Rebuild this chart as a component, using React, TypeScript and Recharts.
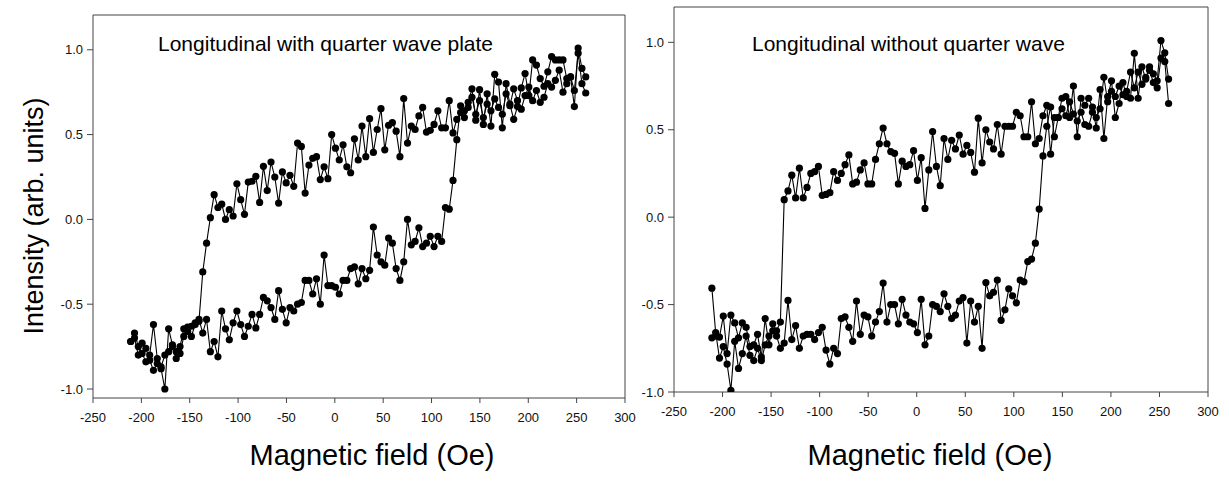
import React from 'react';
import { LineChart, Line, XAxis, YAxis, ReferenceLine } from 'recharts';

const FONT = '"Liberation Sans", Arial, Helvetica, sans-serif';

// field sweep grid (Oe)
const fieldStart = -211;
const fieldStep = 3.92;
const fieldSteps = Array.from({ length: 121 }, (_, i) => Math.round((fieldStart + fieldStep * i) * 100) / 100);

const xTicks = [-250, -200, -150, -100, -50, 0, 50, 100, 150, 200, 250, 300];
const yTicks = [-1, -0.5, 0, 0.5, 1];

// Left panel: with quarter wave plate
const leftAscending = [
  -0.72, -0.67, -0.75, -0.79, -0.84, -0.80, -0.62, -0.82, -0.88, -1.00, -0.645, -0.74, -0.78, -0.79, -0.69, -0.635, -0.69, -0.62, -0.59,
  -0.67, -0.59, -0.78, -0.72, -0.81, -0.54, -0.645, -0.71, -0.61, -0.54, -0.62, -0.69, -0.63, -0.56, -0.64, -0.56, -0.46, -0.48, -0.52, -0.59,
  -0.42, -0.53, -0.61, -0.52, -0.54, -0.50, -0.49, -0.36, -0.36, -0.44, -0.35, -0.50, -0.21, -0.39, -0.39, -0.40, -0.44, -0.36, -0.36, -0.29,
  -0.28, -0.38, -0.29, -0.35, -0.30, -0.045, -0.21, -0.25, -0.27, -0.11, -0.14, -0.29, -0.36, -0.25, 0.0, -0.15, -0.13, -0.05, -0.16, -0.14,
  -0.10, -0.16, -0.10, -0.13, 0.07, 0.06, 0.23, 0.47,
  0.67, 0.64, 0.69, 0.77, 0.585, 0.765, 0.56, 0.74, 0.55, 0.855, 0.81, 0.54, 0.80, 0.68, 0.59, 0.665, 0.775, 0.86, 0.73, 0.94,
  0.91, 0.83, 0.785, 0.87, 0.96, 0.94, 0.94, 0.94, 0.83, 0.84, 0.665, 1.01, 0.89, 0.84,
];
const leftDescending = [
  -0.72, -0.70, -0.80, -0.73, -0.76, -0.83, -0.89, -0.85, -0.87, -0.80, -0.78, -0.75, -0.82, -0.75, -0.645, -0.66, -0.63, -0.61, -0.60,
  -0.31, -0.14, 0.01, 0.146, 0.07, 0.09, 0.0, 0.057, 0.02, 0.21, 0.116, 0.03, 0.22, 0.225, 0.254, 0.10, 0.313, 0.17, 0.338, 0.25,
  0.096, 0.28, 0.215, 0.26, 0.195, 0.45, 0.43, 0.155, 0.32, 0.36, 0.37, 0.235, 0.31, 0.24, 0.50, 0.42, 0.35, 0.44, 0.31, 0.275,
  0.475, 0.35, 0.55, 0.37, 0.594, 0.395, 0.53, 0.653, 0.41, 0.555, 0.57, 0.52, 0.37, 0.712, 0.45, 0.55, 0.53, 0.61, 0.66, 0.515,
  0.525, 0.56, 0.64, 0.54, 0.54, 0.70, 0.51, 0.59,
  0.63, 0.60, 0.66, 0.72, 0.62, 0.70, 0.60, 0.68, 0.64, 0.71, 0.66, 0.62, 0.74, 0.67, 0.77, 0.70, 0.65, 0.73, 0.78, 0.70,
  0.76, 0.69, 0.72, 0.80, 0.78, 0.82, 0.88, 0.75, 0.80, 0.84, 0.76, 0.98, 0.80, 0.745,
];

// Right panel: without quarter wave
const rightAscending = [
  -0.406, -0.66, -0.806, -0.74, -0.84, -0.99, -0.71, -0.865, -0.78, -0.68, -0.79, -0.82, -0.75, -0.82, -0.73, -0.68, -0.65, -0.68, -0.75, -0.72,
  -0.476, -0.70, -0.62, -0.75, -0.68, -0.67, -0.67, -0.70, -0.66, -0.63,
  -0.76, -0.84, -0.75, -0.78, -0.58, -0.57, -0.63, -0.71, -0.48, -0.67,
  -0.56, -0.57, -0.68, -0.60, -0.54, -0.377, -0.60, -0.50, -0.50, -0.61,
  -0.47, -0.56, -0.60, -0.61, -0.66, -0.47, -0.73, -0.68, -0.50, -0.51,
  -0.54, -0.438, -0.51, -0.58, -0.56, -0.48, -0.46, -0.72, -0.48, -0.60,
  -0.51, -0.75, -0.374, -0.45, -0.43, -0.36, -0.59, -0.53, -0.41, -0.45,
  -0.49, -0.36, -0.37, -0.254, -0.24, -0.149, 0.046,
  0.35, 0.52, 0.63, 0.46, 0.57, 0.68, 0.69, 0.57, 0.75, 0.46, 0.68, 0.64, 0.68, 0.63, 0.51, 0.73, 0.45, 0.69, 0.78, 0.57,
  0.65, 0.77, 0.69, 0.68, 0.937, 0.68, 0.86, 0.79, 0.86, 0.82, 0.78, 1.01, 0.94, 0.79,
];
const rightDescending = [
  -0.69, -0.68, -0.686, -0.566, -0.78, -0.56, -0.605, -0.69, -0.605, -0.63, -0.74, -0.73, -0.67, -0.80, -0.58, -0.73, -0.61, -0.65, -0.60,
  0.10, 0.15, 0.24, 0.11, 0.28, 0.11, 0.17, 0.25, 0.26, 0.29, 0.125, 0.13, 0.14, 0.26, 0.21, 0.25, 0.30, 0.356, 0.19, 0.20,
  0.27, 0.31, 0.19, 0.19, 0.33, 0.42, 0.51, 0.42, 0.375, 0.365, 0.19, 0.32, 0.29, 0.30, 0.38, 0.21, 0.34, 0.05, 0.27, 0.49,
  0.29, 0.18, 0.45, 0.33, 0.44, 0.39, 0.47, 0.36, 0.41, 0.37, 0.257, 0.566, 0.31, 0.50, 0.43, 0.39, 0.53, 0.36, 0.52, 0.52,
  0.52, 0.60, 0.58, 0.46, 0.46, 0.66, 0.42, 0.45,
  0.58, 0.64, 0.36, 0.57, 0.57, 0.62, 0.58, 0.66, 0.59, 0.55, 0.60, 0.53, 0.52, 0.60, 0.57, 0.62, 0.80, 0.66, 0.72, 0.69,
  0.75, 0.70, 0.72, 0.83, 0.74, 0.83, 0.76, 0.80, 0.84, 0.77, 0.74, 0.91, 0.89, 0.65,
];

const leftData = fieldSteps.map((f, i) => ({ field: f, asc: leftAscending[i], desc: leftDescending[i] }));
const rightData = fieldSteps.map((f, i) => ({ field: f, asc: rightAscending[i], desc: rightDescending[i] }));

const AXIS = '#444';
const tickStyle = { fontSize: 13, fill: '#111', fontFamily: FONT };
const dotStyle = { r: 3.6, fill: '#000', stroke: '#000', strokeWidth: 0 };

type PanelProps = {
  data: { field: number; asc: number; desc: number }[];
  width: number;
  height: number;
  margin: { top: number; right: number; bottom: number; left: number };
  yAxisWidth: number;
  yDomain: [number, number];
  tickMarginX: number;
};

function Panel({ data, width, height, margin, yAxisWidth, yDomain, tickMarginX }: PanelProps) {
  return (
    <LineChart width={width} height={height} data={data} margin={margin}>
      <XAxis
        type="number"
        dataKey="field"
        domain={[-250, 300]}
        ticks={xTicks}
        allowDataOverflow
        interval={0}
        tick={tickStyle}
        tickSize={5}
        tickMargin={tickMarginX}
        stroke={AXIS}
        height={30}
      />
      <YAxis
        type="number"
        domain={yDomain}
        ticks={yTicks}
        allowDataOverflow
        interval={0}
        tick={tickStyle}
        tickSize={6}
        tickMargin={4}
        width={yAxisWidth}
        stroke={AXIS}
        tickFormatter={(v: number) => v.toFixed(1)}
      />
      <ReferenceLine y={yDomain[1]} stroke={AXIS} strokeWidth={1} />
      <ReferenceLine x={300} stroke={AXIS} strokeWidth={1} />
      <Line dataKey="asc" stroke="#000" strokeWidth={1.1} dot={dotStyle} isAnimationActive={false} />
      <Line dataKey="desc" stroke="#000" strokeWidth={1.1} dot={dotStyle} isAnimationActive={false} />
    </LineChart>
  );
}

const textBase: React.CSSProperties = {
  position: 'absolute',
  fontFamily: FONT,
  color: '#000',
  whiteSpace: 'nowrap',
  lineHeight: 1,
};

export default function App() {
  return (
    <div style={{ position: 'absolute', left: 0, top: 0, width: 1229, height: 481, background: '#fff', overflow: 'hidden' }}>
      <div style={{ position: 'absolute', left: 0, top: 0 }}>
        <Panel
          data={leftData}
          width={640}
          height={481}
          margin={{ top: 15, right: 15, bottom: 53, left: 33 }}
          yAxisWidth={60}
          yDomain={[-1.053, 1.205]}
          tickMarginX={10}
        />
      </div>
      <div style={{ position: 'absolute', left: 620, top: 0 }}>
        <Panel
          data={rightData}
          width={609}
          height={481}
          margin={{ top: 7, right: 21, bottom: 59, left: 0 }}
          yAxisWidth={54}
          yDomain={[-1.0, 1.202]}
          tickMarginX={10}
        />
      </div>
      <div style={{ ...textBase, left: 158, top: 33, fontSize: 21 }}>Longitudinal with quarter wave plate</div>
      <div style={{ ...textBase, left: 752, top: 33, fontSize: 21 }}>Longitudinal without quarter wave</div>
      <div style={{ ...textBase, left: 372, top: 441, fontSize: 29, transform: 'translateX(-50%)' }}>Magnetic field (Oe)</div>
      <div style={{ ...textBase, left: 930, top: 441, fontSize: 29, transform: 'translateX(-50%)' }}>Magnetic field (Oe)</div>
      <div style={{ ...textBase, left: 34, top: 216, fontSize: 27, transform: 'translate(-50%, -50%) rotate(-90deg)' }}>Intensity (arb. units)</div>
    </div>
  );
}
